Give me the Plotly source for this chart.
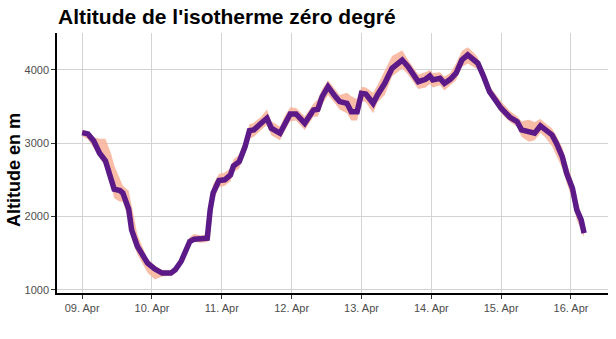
import plotly.graph_objects as go
from datetime import datetime, timedelta

start = datetime(2024, 4, 9, 0, 0)
hours = [0, 2, 4, 6, 8, 10, 11, 13, 14, 16, 17, 19, 21, 22.5, 25, 27.5, 30.5, 32, 34, 36, 37,
         38.5, 41, 43, 44, 45, 47, 49, 51, 52, 54, 56, 57.5, 59, 61.5, 63.5, 65, 68, 69.5,
         71.5, 73.5, 76.5, 79.5, 81, 82.5, 84.5, 87, 88.5, 91, 92.5, 94.5, 96, 97.5, 100,
         101.5, 104, 106.5, 108, 110, 112, 115.5, 118, 119.5, 120.5, 123, 124.5, 126.5, 128.5,
         130.5, 132.5, 134.5, 136, 138, 140, 142, 144, 147, 149.5, 151, 153.5, 155.5, 157.5,
         159, 161.5, 163, 165, 166.5, 168.5, 170, 171.5, 172.5]
altitude = [3145, 3127, 3030, 2864, 2760, 2500, 2373, 2354, 2318, 2100, 1818, 1590, 1453, 1363,
            1282, 1227, 1227, 1272, 1385, 1545, 1658, 1690, 1690, 1704, 2090, 2318, 2490, 2500,
            2568, 2690, 2749, 2954, 3172, 3182, 3273, 3341, 3205, 3136, 3250, 3400, 3400, 3273,
            3454, 3464, 3636, 3772, 3636, 3568, 3545, 3431, 3431, 3682, 3673, 3545, 3659, 3818,
            4023, 4080, 4136, 4045, 3841, 3873, 3918, 3864, 3886, 3818, 3873, 3955, 4136, 4205,
            4136, 4091, 3909, 3704, 3591, 3477, 3355, 3295, 3182, 3159, 3136, 3236, 3191, 3113,
            3000, 2818, 2591, 2386, 2090, 1954, 1772]
lower = [3100, 3050, 2930, 2800, 2680, 2420, 2250, 2200, 2200, 1950, 1700, 1480, 1330, 1230,
         1140, 1180, 1190, 1230, 1330, 1500, 1620, 1650, 1640, 1650, 1720, 2200, 2400, 2420,
         2480, 2600, 2660, 2860, 3060, 3090, 3180, 3250, 3110, 3040, 3160, 3300, 3310, 3180,
         3360, 3360, 3530, 3660, 3540, 3460, 3410, 3310, 3310, 3580, 3560, 3410, 3560, 3660,
         3910, 3960, 4020, 3940, 3740, 3760, 3810, 3760, 3790, 3720, 3790, 3860, 4040, 4090,
         4040, 4010, 3830, 3640, 3530, 3410, 3290, 3230, 3090, 3020, 3040, 3140, 3090, 2960,
         2830, 2660, 2460, 2220, 1950, 1820, 1720]
upper = [3180, 3150, 3080, 3060, 3060, 2850, 2700, 2500, 2420, 2350, 2150, 1750, 1560, 1420,
         1330, 1270, 1260, 1300, 1450, 1640, 1720, 1760, 1740, 1760, 2190, 2440, 2580, 2600,
         2660, 2780, 2840, 3060, 3260, 3280, 3360, 3460, 3300, 3230, 3360, 3490, 3480, 3370,
         3540, 3600, 3740, 3860, 3740, 3660, 3690, 3640, 3600, 3770, 3760, 3690, 3790, 3990,
         4190, 4220, 4270, 4140, 3940, 3970, 4000, 3960, 3970, 3910, 3960, 4090, 4260, 4310,
         4240, 4170, 3990, 3780, 3670, 3570, 3440, 3370, 3300, 3320, 3290, 3330, 3280, 3200,
         3100, 2940, 2740, 2490, 2240, 2040, 1850]

times = [start + timedelta(hours=h) for h in hours]
title_text = "Altitude de l'isotherme zéro degré"
y_title = "Altitude en m"

fig = go.Figure()
fig.add_trace(go.Scatter(x=times, y=upper, mode="lines", line=dict(width=0),
                         hoverinfo="skip", showlegend=False))
fig.add_trace(go.Scatter(x=times, y=lower, mode="lines", line=dict(width=0),
                         fill="tonexty", fillcolor="rgba(248,176,152,0.85)",
                         hoverinfo="skip", showlegend=False))
fig.add_trace(go.Scatter(x=times, y=altitude, mode="lines",
                         line=dict(color="#5B1A87", width=5.5, shape="linear"),
                         showlegend=False))

x0 = start - timedelta(hours=0.36 * 24)
x1 = start + timedelta(hours=7.53 * 24)

fig.update_layout(
    width=616, height=339,
    margin=dict(l=57, r=8, t=33, b=46),
    paper_bgcolor="white", plot_bgcolor="white",
    font=dict(family="Liberation Sans, Arial, sans-serif", color="#4d4d4d", size=11),
    title=dict(text="<b>" + title_text + "</b>", x=58 / 616, xref="container", xanchor="left",
               y=1 - 17 / 339, yref="container", yanchor="middle",
               font=dict(size=21, color="black", family="Liberation Sans, Arial, sans-serif")),
    xaxis=dict(range=[x0, x1], dtick=86400000, tick0="2024-04-09", tickformat="%d. %b",
               showgrid=True, gridcolor="#d3d3d3", gridwidth=1.4,
               showline=True, linecolor="black", linewidth=1.5,
               ticks="outside", ticklen=4, tickcolor="#333333", tickwidth=1,
               tickfont=dict(size=11, color="#4d4d4d"), zeroline=False),
    yaxis=dict(range=[955, 4505], tickvals=[1000, 2000, 3000, 4000],
               showgrid=True, gridcolor="#d3d3d3", gridwidth=1.4,
               showline=True, linecolor="black", linewidth=1.5,
               ticks="outside", ticklen=4, tickcolor="#333333", tickwidth=1,
               tickfont=dict(size=11, color="#4d4d4d"), zeroline=False),
    annotations=[dict(text="<b>" + y_title + "</b>", xref="paper", yref="paper",
                      x=(14 - 57) / 551, y=0.473, xanchor="center", yanchor="middle",
                      textangle=-90, showarrow=False,
                      font=dict(size=18, color="black",
                                family="Liberation Sans, Arial, sans-serif"))],
)

fig.write_html("out.html")
